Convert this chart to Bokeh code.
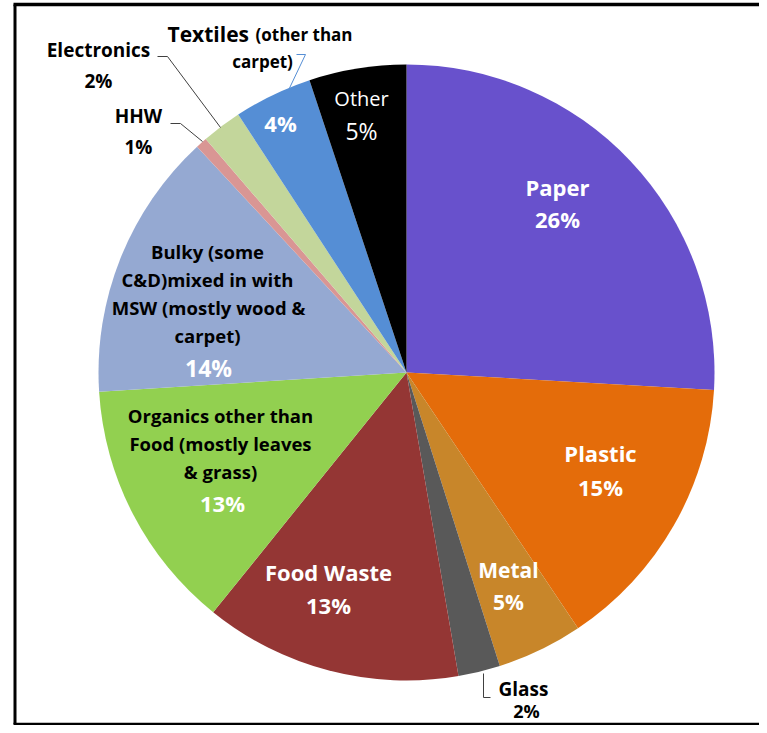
import math
from bokeh.plotting import figure
from bokeh.models import ColumnDataSource
from bokeh.core.properties import value
from bokeh.embed import file_html
from bokeh.resources import INLINE

# ---------------- data ----------------
categories = ["Paper", "Plastic", "Metal", "Glass", "Food Waste",
              "Organics other than Food (mostly leaves & grass)",
              "Bulky (some C&D)mixed in with MSW (mostly wood & carpet)",
              "HHW", "Electronics", "Textiles (other than carpet)", "Other"]
shares = [25.9, 14.7, 4.5, 2.2, 13.5, 13.2, 14.1, 0.6, 2.1, 4.1, 5.1]
pct_labels = ["26%", "15%", "5%", "2%", "13%", "13%", "14%", "1%", "2%", "4%", "5%"]

# ---------------- style ----------------
colors = ["#6851CC", "#E46C0A", "#C8862A", "#595959", "#943634", "#92D050",
          "#95A9D2", "#D99694", "#C3D69B", "#558ED5", "#000000"]

W, H = 759, 725
def sx(X):  # screen px -> data x
    return X
def sy(Y):  # screen px -> data y
    return H - Y

CX, CY, R = 406, 372, 308

p = figure(width=W, height=H, x_range=(0, W), y_range=(0, H),
           output_backend="svg", toolbar_location=None, min_border=0)
p.axis.visible = False
p.grid.visible = False
p.outline_line_color = None
p.background_fill_color = "white"
p.border_fill_color = "white"

total = sum(shares)
starts, ends = [], []
c = 0.0
for v in shares:
    starts.append(math.pi / 2 - 2 * math.pi * c / total)
    c += v
    ends.append(math.pi / 2 - 2 * math.pi * c / total)

src = ColumnDataSource(dict(x=[sx(CX)] * len(shares), y=[sy(CY)] * len(shares),
                            start=starts, end=ends, color=colors, cat=categories))
p.wedge(x="x", y="y", radius=R, start_angle="start", end_angle="end",
        direction="clock", fill_color="color", line_color=None, source=src)

# ---------------- frame ----------------
p.line([sx(14.5), sx(14.5)], [sy(723.5), sy(4)], line_color="black", line_width=3)
p.line([sx(13), sx(767)], [sy(723.5), sy(723.5)], line_color="black", line_width=2.5)
p.line([sx(13), sx(767)], [sy(4), sy(4)], line_color="black", line_width=3.5)

# ---------------- labels ----------------
FONT = value("Open Sans")

def txt(X, Y, s, size, color="black", bold=True, align="center"):
    p.text([sx(X)], [sy(Y)], text=[s], text_font=FONT,
           text_font_style="bold" if bold else "normal",
           text_font_size=f"{size}px", text_color=color,
           text_align=align, text_baseline="middle")

# layout: (slice index, [(X, Y, text, size, color, bold)])
label_layout = [
    (0, [(557, 186, categories[0], 22, "white", True), (557, 218, pct_labels[0], 22, "white", True)]),
    (1, [(600, 452, categories[1], 22, "white", True), (600, 486, pct_labels[1], 22, "white", True)]),
    (2, [(508, 569, categories[2], 21, "white", True), (508, 601, pct_labels[2], 21, "white", True)]),
    (3, [(523, 688, categories[3], 19, "black", True), (526, 710, pct_labels[3], 18, "black", True)]),
    (4, [(328, 571, categories[4], 22, "white", True), (328, 604, pct_labels[4], 22, "white", True)]),
    (5, [(220, 415, "Organics other than", 18.5, "black", True),
         (220, 443, "Food (mostly leaves", 18.5, "black", True),
         (220, 471, "& grass)", 18.5, "black", True),
         (222, 502, pct_labels[5], 22, "white", True)]),
    (6, [(207, 251, "Bulky (some", 18.5, "black", True),
         (207, 279, "C&D)mixed in with", 18.5, "black", True),
         (208, 307, "MSW (mostly wood &", 18.5, "black", True),
         (207, 335, "carpet)", 18.5, "black", True),
         (208, 367, pct_labels[6], 23, "white", True)]),
    (7, [(138, 115, categories[7], 19, "black", True), (138, 146, pct_labels[7], 19, "black", True)]),
    (8, [(98, 49, categories[8], 19, "black", True), (98, 80, pct_labels[8], 19, "black", True)]),
    (9, [(280, 122, pct_labels[9], 22, "white", True)]),
    (10, [(361, 98, categories[10], 20, "white", False), (361, 130, pct_labels[10], 23, "white", False)]),
]
for _, items in label_layout:
    for X, Y, s, size, col, b in items:
        txt(X, Y, s, size, col, b)

# Textiles label: mixed sizes
txt(167, 33, "Textiles", 21, "black", True, align="left")
txt(255, 34, "(other than", 17, "black", True, align="left")
txt(262, 61, "carpet)", 17, "black", True)

# ---------------- leader lines ----------------
leaders = [
    ([483, 483, 490], [673, 697, 697], "#404040"),
    ([170, 180, 202], [123, 123, 141], "#404040"),
    ([157, 167, 220], [56, 56, 127], "#404040"),
    ([296, 305, 285], [54, 54, 96], "#558ED5"),
]
for xs, ys, col in leaders:
    p.line([sx(v) for v in xs], [sy(v) for v in ys], line_color=col, line_width=1)

open("out.html", "w").write(file_html(p, INLINE))
